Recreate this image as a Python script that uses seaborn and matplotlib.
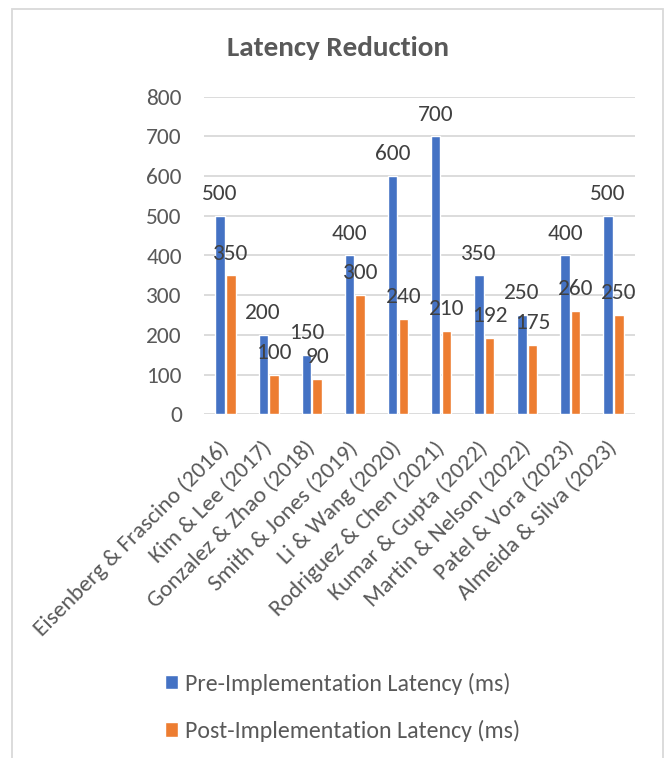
import matplotlib
matplotlib.use("Agg")
import matplotlib.pyplot as plt
import seaborn as sns
import pandas as pd
from matplotlib import font_manager
from matplotlib.patches import Rectangle

# ---- data ----
studies = [
    "Eisenberg & Frascino (2016)",
    "Kim & Lee (2017)",
    "Gonzalez & Zhao (2018)",
    "Smith & Jones (2019)",
    "Li & Wang (2020)",
    "Rodriguez & Chen (2021)",
    "Kumar & Gupta (2022)",
    "Martin & Nelson (2022)",
    "Patel & Vora (2023)",
    "Almeida & Silva (2023)",
]
pre_latency = [500, 200, 150, 400, 600, 700, 350, 250, 400, 500]
post_latency = [350, 100, 90, 300, 240, 210, 192, 175, 260, 250]
series_names = ["Pre-Implementation Latency (ms)", "Post-Implementation Latency (ms)"]
y_ticks = [0, 100, 200, 300, 400, 500, 600, 700, 800]
title = "Latency Reduction"

# ---- style ----
sns.set_theme(style="white")
available = {f.name for f in font_manager.fontManager.ttflist}
family = "Carlito" if "Carlito" in available else "Lato"
plt.rcParams["font.family"] = [family, "DejaVu Sans"]

df = pd.DataFrame({
    "Study": studies * 2,
    "Latency": pre_latency + post_latency,
    "Series": [series_names[0]] * len(studies) + [series_names[1]] * len(studies),
})

W, H = 665, 758
fig = plt.figure(figsize=(W / 100, H / 100), dpi=100)
fig.patch.set_facecolor("white")

left, right, top, bottom = 204, 635, 96.7, 414.3
ax = fig.add_axes([left / W, 1 - bottom / H, (right - left) / W, (bottom - top) / H])

sns.barplot(data=df, x="Study", y="Latency", hue="Series",
            palette=["#4472C4", "#ED7D31"], width=0.5, gap=0.12,
            saturation=1, ax=ax, errorbar=None)

text_color = "#595959"
fs = 16.8

for cont in ax.containers:
    ax.bar_label(cont, fmt="%g", padding=8.5, fontsize=fs, color="#404040")

ax.set_ylim(0, 800)
ax.set_yticks(y_ticks)
ax.set_xlabel("")
ax.set_ylabel("")
ax.yaxis.grid(True, color="#D9D9D9", linewidth=1.3)
ax.set_axisbelow(True)
for s in ax.spines.values():
    s.set_visible(False)
ax.tick_params(axis="both", length=0, labelsize=fs, labelcolor=text_color)
ax.tick_params(axis="y", pad=16)
ax.tick_params(axis="x", pad=22)
plt.setp(ax.get_xticklabels(), rotation=45, ha="right", va="center",
         rotation_mode="anchor")

handles, labels = ax.get_legend_handles_labels()
if ax.legend_ is not None:
    ax.legend_.remove()
fig.legend(handles, labels, loc="upper left",
           bbox_to_anchor=(165 / W, 1 - 672.5 / H), bbox_transform=fig.transFigure,
           frameon=False, fontsize=17.2, labelcolor=text_color,
           handlelength=0.55, handleheight=0.55, handletextpad=0.3,
           labelspacing=1.05, borderpad=0, borderaxespad=0)

fig.text(338 / W, 1 - 56 / H, title, ha="center", va="baseline",
         fontsize=21, fontweight="bold", color=text_color)

fig.patches.append(Rectangle((12 / W, -0.02), (663 - 12) / W, 1 - 9 / H + 0.02,
                             transform=fig.transFigure, fill=False,
                             edgecolor="#D9D9D9", linewidth=1.3))

fig.savefig("out.png", dpi=100)
